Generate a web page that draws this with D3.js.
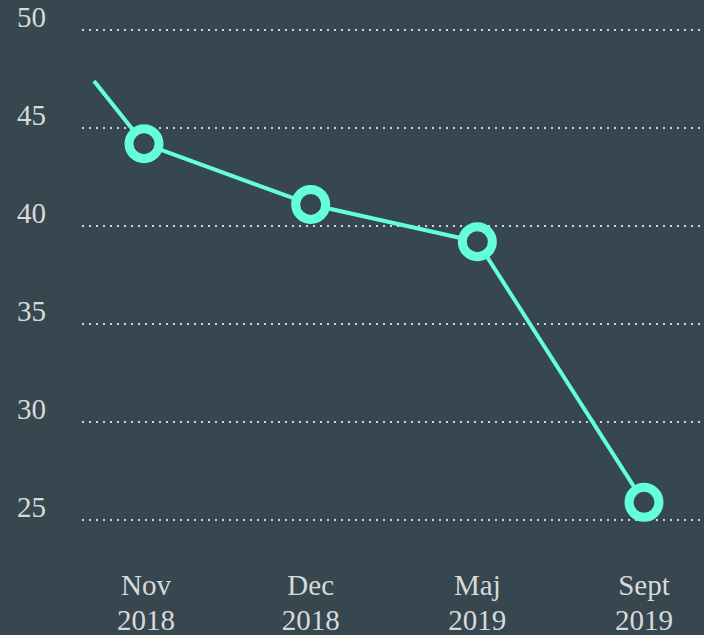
<!DOCTYPE html>
<html>
<head>
<meta charset="utf-8">
<script src="https://d3js.org/d3.v7.min.js"></script>
<style>
  html, body { margin: 0; padding: 0; background: #37474f; }
  svg { display: block; }
</style>
</head>
<body>
<svg id="chart" width="704" height="635"></svg>
<script>
const months = ["Nov", "Dec", "Maj", "Sept"];
const years = ["2018", "2018", "2019", "2019"];
const values = [44.2, 41.1, 39.2, 25.9];
const leadInPos = [-0.3];
const leadInValue = [47.4];
const yTicks = [25, 30, 35, 40, 45, 50];

const W = 704, H = 635;
const svg = d3.select("#chart");
svg.append("rect").attr("width", W).attr("height", H).attr("fill", "#37474f");

const x = d3.scaleLinear().domain([0, 3]).range([144, 644]);
const y = d3.scaleLinear().domain([25, 50]).range([520, 30]);

const font = "'Liberation Serif', 'DejaVu Serif', serif";
const textColor = "#d9d9d9";

// grid
const grid = svg.append("g");
grid.selectAll("line").data(yTicks).join("line")
  .attr("x1", 82).attr("x2", W)
  .attr("y1", d => y(d)).attr("y2", d => y(d))
  .attr("stroke", "#cfd4d6").attr("stroke-width", 2)
  .attr("stroke-dasharray", "2,5");

// y labels
svg.append("g").selectAll("text").data(yTicks).join("text")
  .attr("x", 17).attr("y", d => y(d) - 3)
  .attr("font-family", font).attr("font-size", 29)
  .attr("fill", textColor)
  .text(d => d);

// x labels
const lx = (i) => x(i) + (i === 0 ? 2 : 0);
const xl = svg.append("g").selectAll("text").data(months).join("text")
  .attr("text-anchor", "middle")
  .attr("font-family", font).attr("font-size", 29)
  .attr("fill", textColor);
xl.append("tspan").attr("x", (d, i) => lx(i)).attr("y", 595).text(d => d);
xl.append("tspan").attr("x", (d, i) => lx(i)).attr("y", 630).text((d, i) => years[i]);

// line
const pts = leadInPos.map((p, i) => [p, leadInValue[i]]).concat(values.map((v, i) => [i, v]));
const line = d3.line().x(d => x(d[0])).y(d => y(d[1]));
svg.append("path").datum(pts)
  .attr("d", line)
  .attr("fill", "none")
  .attr("stroke", "#64ffda")
  .attr("stroke-width", 4)
  .attr("stroke-linejoin", "round");

// circles
svg.append("g").selectAll("circle").data(values).join("circle")
  .attr("cx", (d, i) => x(i)).attr("cy", d => y(d))
  .attr("r", 15)
  .attr("fill", "#37474f")
  .attr("stroke", "#64ffda")
  .attr("stroke-width", 9);
</script>
</body>
</html>
